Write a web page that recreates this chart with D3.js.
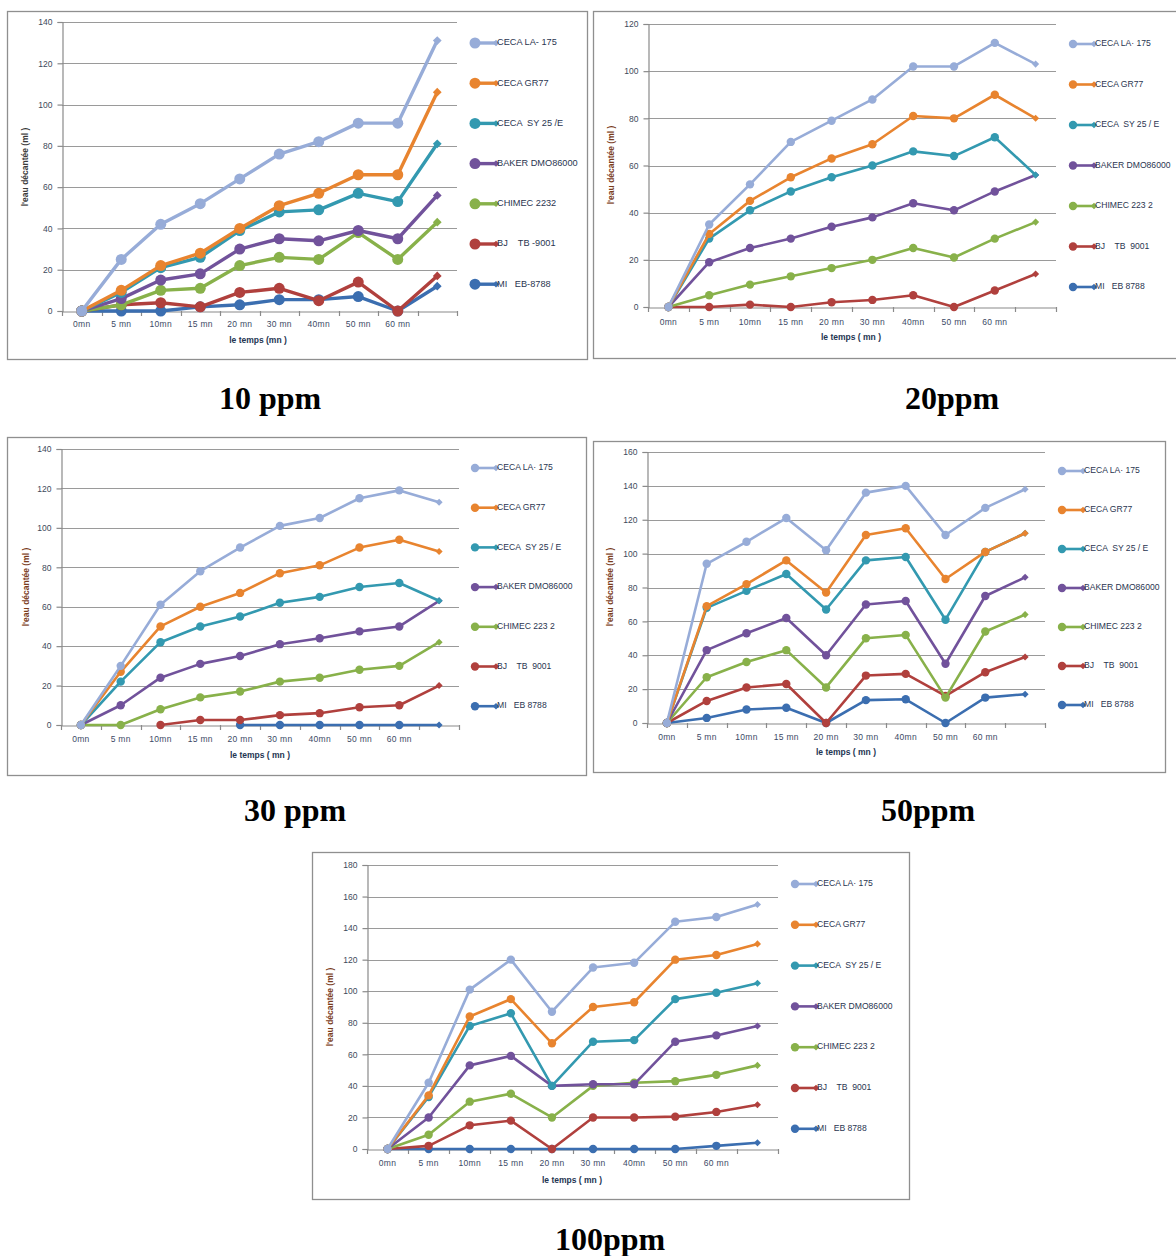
<!DOCTYPE html>
<html><head><meta charset="utf-8">
<script src="https://cdn.jsdelivr.net/npm/d3@7"></script>
<style>body{margin:0;background:#fff}svg{display:block}</style>
</head><body>
<svg id="c" width="1176" height="1256"></svg>
<script>
// ---- DATA ----
const categories = ["0mn","5 mn","10mn","15 mn","20 mn","30 mn","40mn","50 mn","60 mn",""];
const namesA = ["CECA LA- 175","CECA GR77","CECA  SY 25 /E","BAKER DMO86000","CHIMEC 2232","BJ    TB -9001","MI   EB-8788"];
const namesB = ["CECA LA· 175","CECA GR77","CECA  SY 25 / E","BAKER DMO86000","CHIMEC 223 2","BJ    TB  9001","MI   EB 8788"];
const captions = ["10 ppm","20ppm","30 ppm","50ppm","100ppm"];
const yTicks10 = [0,20,40,60,80,100,120,140];
const yTicks20 = [0,20,40,60,80,100,120];
const yTicks30 = [0,20,40,60,80,100,120,140];
const yTicks50 = [0,20,40,60,80,100,120,140,160];
const yTicks100 = [0,20,40,60,80,100,120,140,160,180];

const v10 = [
  [0,25,42,52,64,76,82,91,91,131],
  [0,10,22,28,40,51,57,66,66,106],
  [0,9,21,26,39,48,49,57,53,81],
  [0,6,15,18,30,35,34,39,35,56],
  [0,3,10,11,22,26,25,38,25,43],
  [0,3,4,2,9,11,5,14,0,17],
  [0,0,0,2,3,5.5,5.5,7,0,12]
];
const v20 = [
  [0,35,52,70,79,88,102,102,112,103],
  [0,31,45,55,63,69,81,80,90,80],
  [0,29,41,49,55,60,66,64,72,56],
  [0,19,25,29,34,38,44,41,49,56],
  [0,5,9.5,13,16.5,20,25,21,29,36],
  [0,0,1,0,2,3,5,0,7,14],
  [null,null,null,null,null,null,null,null,null,null]
];
const v30 = [
  [0,30,61,78,90,101,105,115,119,113],
  [0,27,50,60,67,77,81,90,94,88],
  [0,22,42,50,55,62,65,70,72,63],
  [0,10,24,31,35,41,44,47.5,50,63],
  [0,0,8,14,17,22,24,28,30,42],
  [null,null,0,2.5,2.5,5,6,9,10,20],
  [null,null,null,null,0,0,0,0,0,0]
];
const v50 = [
  [0,94,107,121,102,136,140,111,127,138],
  [0,69,82,96,77,111,115,85,101,112],
  [0,68,78,88,67,96,98,61,101,112],
  [0,43,53,62,40,70,72,35,75,86],
  [0,27,36,43,21,50,52,15,54,64],
  [0,13,21,23,0,28,29,16,30,39],
  [0,3,8,9,0,13.5,14,0,15,17]
];
const v100 = [
  [0,42,101,120,87,115,118,144,147,155],
  [0,34,84,95,67,90,93,120,123,130],
  [0,33,78,86,40,68,69,95,99,105],
  [0,20,53,59,40,41,41,68,72,78],
  [0,9,30,35,20,40,42,43,47,53],
  [0,2,15,18,0,20,20,20.5,23.5,28],
  [0,0,0,0,0,0,0,0,2,4]
];
const colors = ["#97acd8","#e8842f","#3399b0","#71529b","#88b14a","#b0403d","#3b6eb0"];

// ---- LAYOUT ----
const layouts = [
 {vals:v10, ticks:yTicks10, names:namesA, frame:[7,11,587,359], x0:62,x1:457, yTop:22,yBot:311,
  legX:475, legY:43, legStep:40.2, catY:324, xlab:"le temps (mn )", xlabX:258, xlabY:341,
  ylab:"l'eau décantée (ml )", ylabX:26, ylabY:167, r:5.5, lw:3.4, dia:6.2, cap:[270,409], ylabCol:"#3a3a3a", fs:9.2},
 {vals:v20, ticks:yTicks20, names:namesB, frame:[593,11,1185,358], x0:648,x1:1056, yTop:24,yBot:307,
  legX:1073, legY:44, legStep:40.5, catY:322, xlab:"le temps ( mn )", xlabX:851, xlabY:338,
  ylab:"l'eau  décantée (ml )", ylabX:612, ylabY:165, r:4.2, lw:2.6, dia:5, cap:[952,409], ylabCol:"#7a3c1c", fs:8.6},
 {vals:v30, ticks:yTicks30, names:namesB, frame:[7,437,586,775], x0:61,x1:459, yTop:449,yBot:725,
  legX:475, legY:468, legStep:39.7, catY:739, xlab:"le temps ( mn )", xlabX:260, xlabY:756,
  ylab:"l'eau  décantée (ml )", ylabX:27, ylabY:587, r:4.2, lw:2.6, dia:5, cap:[295,821], ylabCol:"#7a3c1c", fs:8.6},
 {vals:v50, ticks:yTicks50, names:namesB, frame:[593,441,1165,772], x0:647,x1:1045, yTop:452,yBot:723,
  legX:1062, legY:471, legStep:39, catY:737, xlab:"le temps ( mn )", xlabX:846, xlabY:753,
  ylab:"l'eau  décantée (ml )", ylabX:611, ylabY:587, r:4.2, lw:2.6, dia:5, cap:[928,821], ylabCol:"#7a3c1c", fs:8.6},
 {vals:v100, ticks:yTicks100, names:namesB, frame:[312,852,909,1199], x0:367,x1:778, yTop:865,yBot:1149,
  legX:795, legY:884, legStep:40.8, catY:1163, xlab:"le temps ( mn )", xlabX:572, xlabY:1181,
  ylab:"l'eau  décantée (ml )", ylabX:331, ylabY:1007, r:4.2, lw:2.6, dia:5, cap:[610,1250], ylabCol:"#7a3c1c", fs:8.6}
];

const svg = d3.select("#c");
const FONT = "Liberation Sans, Arial, sans-serif";

layouts.forEach((L, ci) => {
  const g = svg.append("g");
  const [fx0,fy0,fx1,fy1] = L.frame;
  g.append("rect").attr("x",fx0+0.5).attr("y",fy0+0.5).attr("width",fx1-fx0).attr("height",fy1-fy0)
    .attr("fill","#fff").attr("stroke","#8f8f8f").attr("stroke-width",1.3);

  const x = d3.scaleBand().domain(categories).range([L.x0, L.x1]);
  const ymax = L.ticks[L.ticks.length-1];
  const y = d3.scaleLinear().domain([0, ymax]).range([L.yBot, L.yTop]);

  // gridlines
  g.append("g").selectAll("line").data(L.ticks.filter(t=>t>0)).join("line")
    .attr("x1",L.x0).attr("x2",L.x1).attr("y1",d=>Math.round(y(d))+0.5).attr("y2",d=>Math.round(y(d))+0.5)
    .attr("stroke","#9a9a9a").attr("stroke-width",1.2);

  // y axis
  const ya = g.append("g").attr("transform",`translate(${L.x0+0.5},0)`)
    .call(d3.axisLeft(y).tickValues(L.ticks).tickSize(5).tickPadding(5));
  ya.select(".domain").attr("stroke","#8a8a8a").attr("stroke-width",1.2);
  ya.selectAll(".tick line").attr("stroke","#8a8a8a").attr("stroke-width",1.2);
  ya.selectAll(".tick text").attr("font-family",FONT).attr("font-size",8.5).attr("fill","#404a5a");

  // x axis
  const xa = g.append("g").attr("transform",`translate(0,${Math.round(L.yBot)+0.5})`)
    .call(d3.axisBottom(x).tickSize(0).tickPadding(0));
  xa.select(".domain").attr("stroke","#8a8a8a").attr("stroke-width",1.2);
  xa.selectAll(".tick text").attr("font-family",FONT).attr("font-size",8.5).attr("fill","#3c4a66")
    .attr("letter-spacing",0.3).attr("dy",null).attr("y",L.catY-L.yBot).attr("dominant-baseline","middle");
  const bounds = categories.map(c=>x(c)).concat([L.x1]);
  g.append("g").selectAll("line").data(bounds).join("line")
    .attr("x1",d=>Math.round(d)+0.5).attr("x2",d=>Math.round(d)+0.5)
    .attr("y1",L.yBot).attr("y2",L.yBot+5).attr("stroke","#8a8a8a").attr("stroke-width",1.2);

  // labels
  g.append("text").attr("x",L.xlabX).attr("y",L.xlabY).attr("text-anchor","middle").attr("dominant-baseline","middle")
    .attr("font-family",FONT).attr("font-size",8.5).attr("font-weight","bold").attr("fill","#243552").text(L.xlab);
  g.append("text").attr("transform",`translate(${L.ylabX},${L.ylabY}) rotate(-90)`).attr("text-anchor","middle")
    .attr("dominant-baseline","middle").attr("font-family",FONT).attr("font-size",8.5).attr("font-weight","bold")
    .attr("fill",L.ylabCol).text(L.ylab);

  // series (drawn last-to-first so the first series sits on top)
  const cx = c => x(c) + x.bandwidth()/2;
  const order = d3.range(L.vals.length).reverse();
  order.forEach(si => {
    const vals = L.vals[si];
    const pts = categories.map((c,i)=>({c, v:vals[i], i}));
    const line = d3.line().defined(d=>d.v!==null).x(d=>cx(d.c)).y(d=>y(d.v));
    const sg = g.append("g");
    sg.append("path").datum(pts).attr("d",line).attr("fill","none").attr("stroke",colors[si])
      .attr("stroke-width",L.lw).attr("stroke-linejoin","round").attr("stroke-linecap","round");
    const valid = pts.filter(d=>d.v!==null);
    sg.append("g").selectAll("circle").data(valid.filter(d=>d.i<categories.length-1)).join("circle")
      .attr("cx",d=>cx(d.c)).attr("cy",d=>y(d.v)).attr("r",L.r).attr("fill",colors[si]);
    sg.append("g").selectAll("rect").data(valid.filter(d=>d.i===categories.length-1)).join("rect")
      .attr("transform",d=>`translate(${cx(d.c)},${y(d.v)}) rotate(45)`)
      .attr("x",-L.dia/2).attr("y",-L.dia/2).attr("width",L.dia).attr("height",L.dia).attr("fill",colors[si]);
  });

  // legend
  L.names.forEach((n, si) => {
    const ly = L.legY + si*L.legStep;
    const lg = g.append("g");
    lg.append("line").attr("x1",L.legX).attr("x2",L.legX+21).attr("y1",ly).attr("y2",ly)
      .attr("stroke",colors[si]).attr("stroke-width",L.lw);
    lg.append("circle").attr("cx",L.legX).attr("cy",ly).attr("r",L.r).attr("fill",colors[si]);
    lg.append("rect").attr("transform",`translate(${L.legX+21},${ly}) rotate(45)`)
      .attr("x",-2.3).attr("y",-2.3).attr("width",4.6).attr("height",4.6).attr("fill",colors[si]);
    lg.append("text").attr("x",L.legX+22).attr("y",ly).attr("dominant-baseline","middle")
      .attr("font-family",FONT).attr("font-size",L.fs).attr("fill","#2a3550")
      .style("white-space","pre").text(n);
  });

  // caption
  svg.append("text").attr("x",L.cap[0]).attr("y",L.cap[1]).attr("text-anchor","middle")
    .attr("font-family","Liberation Serif, Times New Roman, serif").attr("font-size",32).attr("font-weight","bold")
    .attr("fill","#000").text(captions[ci]);
});
</script>
</body></html>
